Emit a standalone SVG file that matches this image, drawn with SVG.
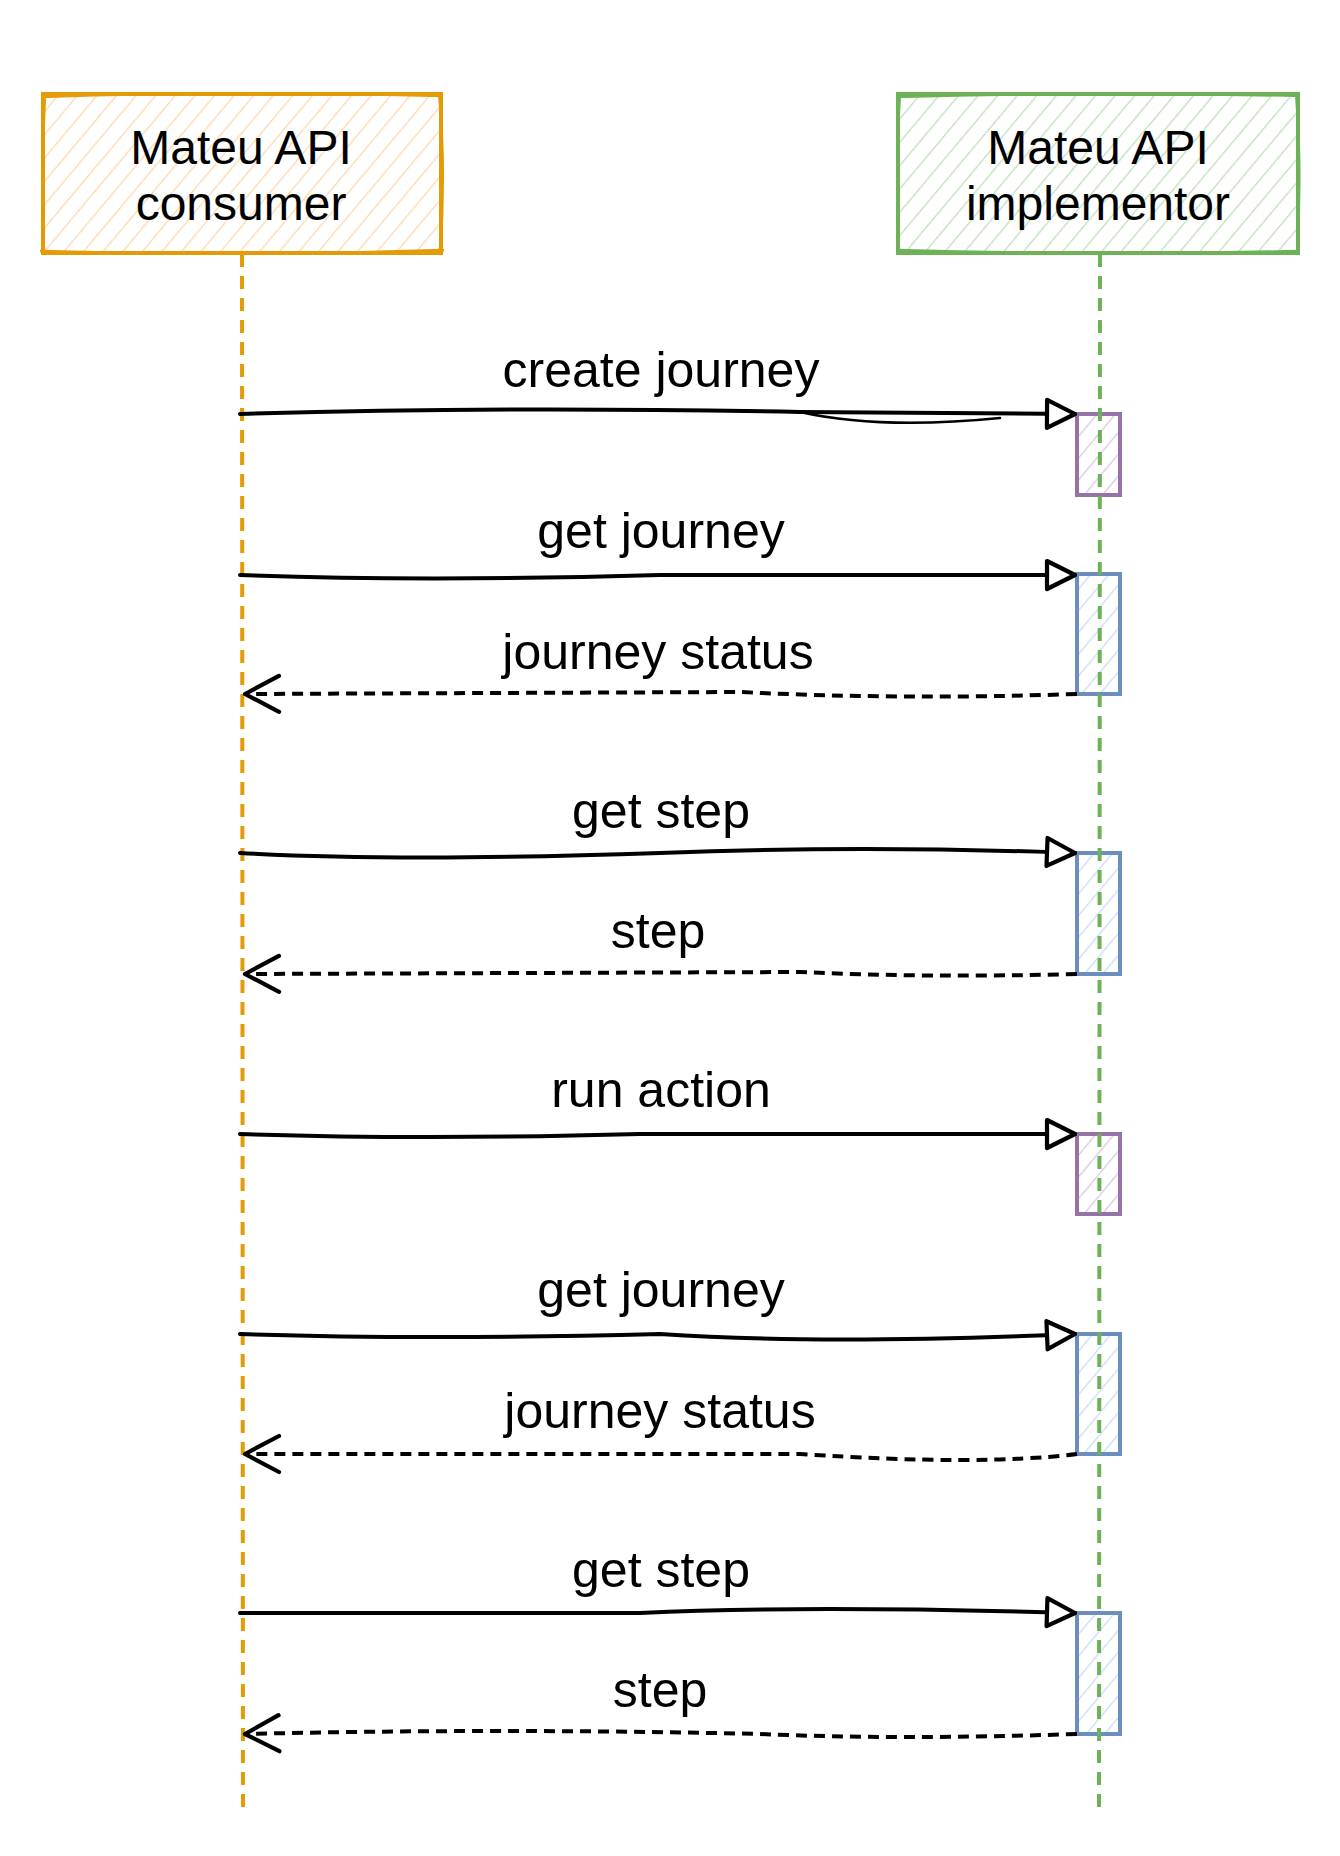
<svg xmlns="http://www.w3.org/2000/svg" width="1340" height="1856" viewBox="0 0 1340 1856">
<style>
  .lbl { font-family: "Liberation Sans", "DejaVu Sans", sans-serif; font-size: 50px; fill: #000; text-anchor: middle; }
  .hdr { font-family: "Liberation Sans", "DejaVu Sans", sans-serif; font-size: 48px; fill: #000; text-anchor: middle; }
  .msg { fill: none; stroke: #000; stroke-width: 4; stroke-linecap: round; marker-end: url(#tri); }
  .msg2 { fill: none; stroke: #000; stroke-width: 2.6; stroke-linecap: round; }
  .ret { fill: none; stroke: #000; stroke-width: 4; stroke-dasharray: 11 7; marker-end: url(#vee); }
  .life { fill: none; stroke-width: 4; stroke-dasharray: 13 9; }
  .actP { fill: url(#hatchP); stroke: #9673a6; stroke-width: 4; }
  .actB { fill: url(#hatchB); stroke: #6c8ebf; stroke-width: 4; }
</style>
<defs>
  <pattern id="hatchO" width="15" height="15" patternUnits="userSpaceOnUse" patternTransform="rotate(40)">
    <rect width="15" height="15" fill="#fff"/>
    <line x1="0" y1="0" x2="0" y2="15" stroke="#fed8ae" stroke-width="2.6"/>
  </pattern>
  <pattern id="hatchG" width="15" height="15" patternUnits="userSpaceOnUse" patternTransform="rotate(40)">
    <rect width="15" height="15" fill="#fff"/>
    <line x1="0" y1="0" x2="0" y2="15" stroke="#bfe0bb" stroke-width="2.6"/>
  </pattern>
  <pattern id="hatchP" width="14" height="14" patternUnits="userSpaceOnUse" patternTransform="rotate(40)">
    <rect width="14" height="14" fill="#fff"/>
    <line x1="0" y1="0" x2="0" y2="14" stroke="#dac6e4" stroke-width="2.6"/>
  </pattern>
  <pattern id="hatchB" width="14" height="14" patternUnits="userSpaceOnUse" patternTransform="rotate(40)">
    <rect width="14" height="14" fill="#fff"/>
    <line x1="0" y1="0" x2="0" y2="14" stroke="#c6ddfa" stroke-width="2.6"/>
  </pattern>
  <marker id="tri" markerUnits="userSpaceOnUse" markerWidth="40" markerHeight="40" refX="34" refY="18" orient="auto">
    <path d="M6,4 L34,18 L6,32 Z" fill="#fff" stroke="#000" stroke-width="4.2" stroke-linejoin="round"/>
  </marker>
  <marker id="vee" markerUnits="userSpaceOnUse" markerWidth="44" markerHeight="44" refX="38" refY="22" orient="auto">
    <path d="M4,4 L38,22 L4,40" fill="none" stroke="#000" stroke-width="4.2" stroke-linecap="round" stroke-linejoin="round"/>
  </marker>
</defs>

<rect width="1340" height="1856" fill="#fff"/>

<g id="node-consumer">
  <rect x="43" y="94" width="398" height="159" fill="url(#hatchO)" stroke="#e39b06" stroke-width="4"/>
  <path d="M41,97 Q240,90 443,96 M40,251 Q240,257 444,250 M45,92 Q41,170 44,255 M439,92 Q446,170 440,255" fill="none" stroke="#e39b06" stroke-width="2.6"/>
  <text class="hdr" x="241" y="164">Mateu API</text>
  <text class="hdr" x="241" y="220">consumer</text>
</g>

<g id="node-implementor">
  <rect x="898" y="94" width="400" height="159" fill="url(#hatchG)" stroke="#6eb257" stroke-width="4"/>
  <path d="M896,97 Q1100,91 1300,96 M896,250 Q1100,256 1300,251 M900,92 Q895,170 899,255 M1296,92 Q1302,170 1297,255" fill="none" stroke="#6eb257" stroke-width="2.6"/>
  <text class="hdr" x="1098" y="164">Mateu API</text>
  <text class="hdr" x="1098" y="220">implementor</text>
</g>

<g id="activations">
  <rect id="act-1" class="actP" x="1077" y="414" width="43" height="81"/>
  <rect id="act-2" class="actB" x="1077" y="574" width="43" height="120"/>
  <rect id="act-3" class="actB" x="1077" y="853" width="43" height="121"/>
  <rect id="act-4" class="actP" x="1077" y="1134" width="43" height="80"/>
  <rect id="act-5" class="actB" x="1077" y="1334" width="43" height="120"/>
  <rect id="act-6" class="actB" x="1077" y="1613" width="43" height="121"/>
</g>

<g id="lifelines">
  <line class="life" x1="242" y1="254" x2="243" y2="1810" stroke="#e39b06"/>
  <line class="life" x1="1100" y1="254" x2="1099" y2="1810" stroke="#6eb257"/>
</g>

<g id="connectors">
  <path class="msg" d="M240,414 Q500,406 800,412 L1075,414"/>
  <path class="msg2" d="M800,412 Q880,430 1000,418"/>
  <text class="lbl" x="661" y="387">create journey</text>

  <path class="msg" d="M240,575 Q420,582 660,575 L1075,575"/>
  <text class="lbl" x="661" y="548">get journey</text>

  <path class="ret" d="M1077,694 Q900,700 740,692 L245,694"/>
  <text class="lbl" x="658" y="669">journey status</text>

  <path class="msg" d="M240,853 Q400,862 660,853 Q860,845 1075,853"/>
  <text class="lbl" x="661" y="828">get step</text>

  <path class="ret" d="M1077,974 Q930,978 800,972 L245,974"/>
  <text class="lbl" x="658" y="948">step</text>

  <path class="msg" d="M240,1134 Q420,1140 640,1134 L1075,1134"/>
  <text class="lbl" x="661" y="1107">run action</text>

  <path class="msg" d="M240,1334 Q420,1340 660,1334 Q820,1345 1075,1334"/>
  <text class="lbl" x="661" y="1307">get journey</text>

  <path class="ret" d="M1077,1454 Q980,1466 800,1454 L245,1454"/>
  <text class="lbl" x="660" y="1428">journey status</text>

  <path class="msg" d="M240,1613 L640,1613 Q800,1605 1075,1613"/>
  <text class="lbl" x="661" y="1587">get step</text>

  <path class="ret" d="M1077,1734 Q900,1740 760,1734 Q500,1728 245,1734"/>
  <text class="lbl" x="660" y="1707">step</text>
</g>
</svg>
